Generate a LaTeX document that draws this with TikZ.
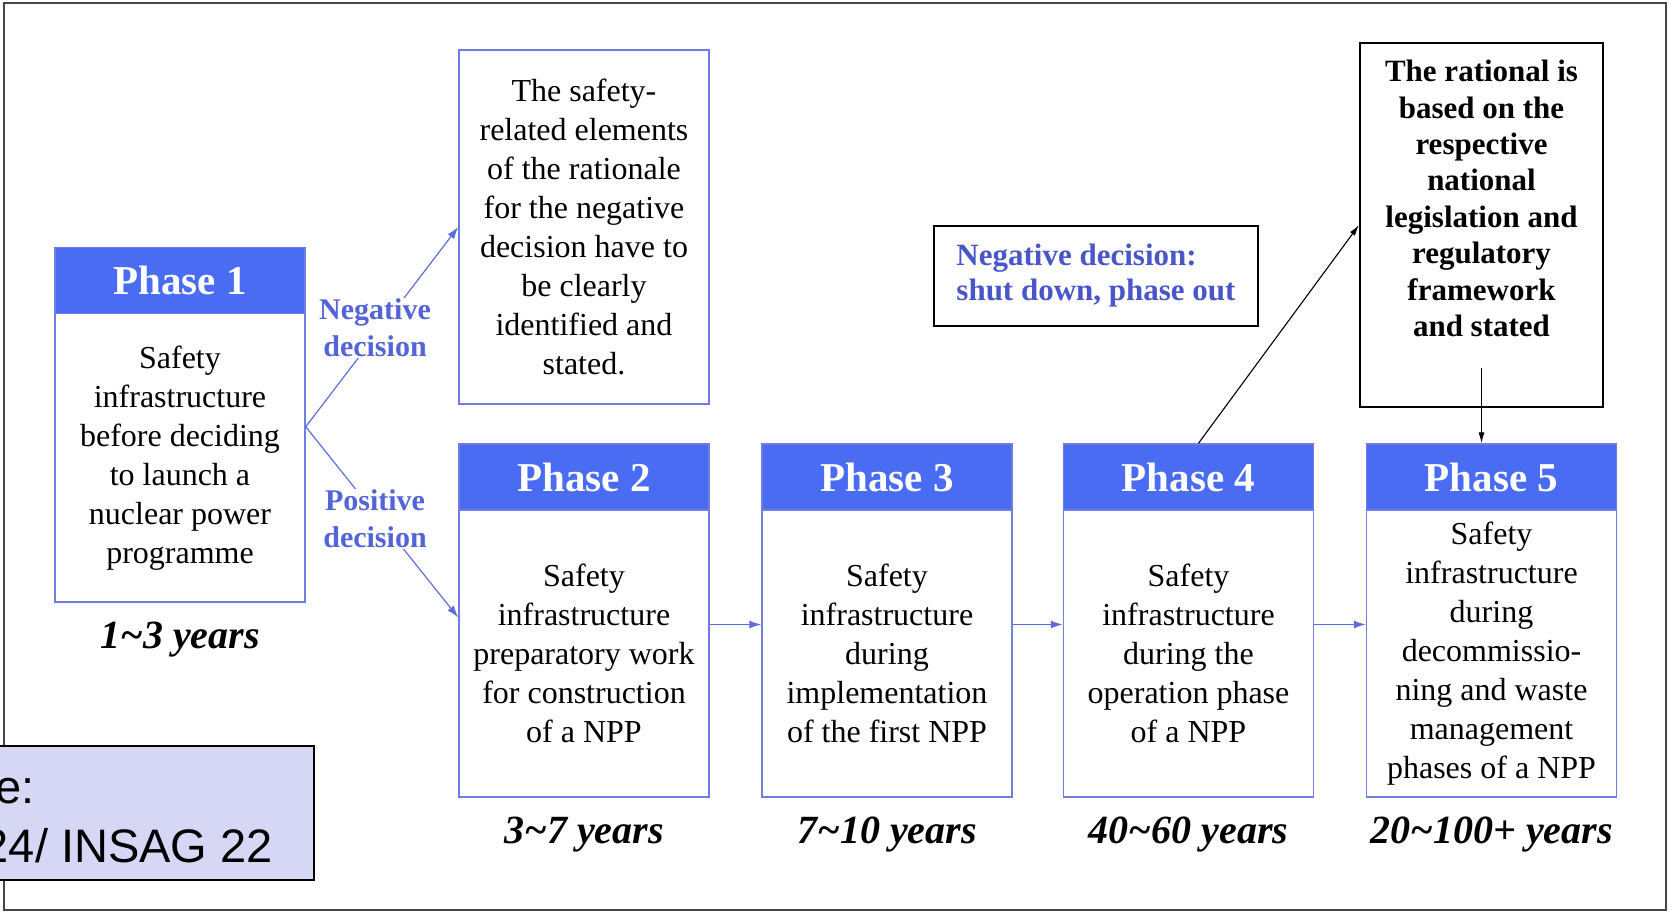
\documentclass[tikz,border=0pt]{standalone}
\usepackage{fontspec}
\setmainfont{Liberation Serif}
\newfontfamily\srcfont{Liberation Sans}
\usetikzlibrary{arrows.meta}

\definecolor{headblue}{RGB}{74,108,242}
\definecolor{edgeblue}{RGB}{112,126,226}
\definecolor{arrowblue}{RGB}{92,110,222}
\definecolor{labelblue}{RGB}{82,100,215}
\definecolor{shutblue}{RGB}{72,86,200}
\definecolor{srcfill}{RGB}{213,215,245}
\definecolor{framegray}{RGB}{70,70,70}

\tikzset{
  phasehead/.style={fill=headblue, draw=edgeblue, line width=1.5pt, text=white,
    minimum width=250pt, minimum height=66pt, inner sep=0pt,
    font=\fontsize{41}{48}\selectfont\bfseries},
  phasebody/.style={draw=edgeblue, line width=1.5pt, minimum width=250pt,
    inner sep=0pt, align=center, font=\fontsize{32}{39}\selectfont},
  yearlabel/.style={inner sep=0pt, font=\fontsize{40}{48}\selectfont\bfseries\itshape},
  decisionlabel/.style={text=labelblue, fill=white, align=center, inner sep=1pt,
    font=\fontsize{30}{37}\selectfont\bfseries},
  notebox/.style={draw=black, line width=2pt, inner sep=0pt},
  flowarrow/.style={draw=arrowblue, line width=1.2pt, -{Latex[length=12pt,width=8pt]}},
  linkarrow/.style={draw=black, line width=1.1pt, -{Latex[length=11pt,width=6pt]}},
  srctext/.style={inner sep=0pt, font=\srcfont\fontsize{47}{56}\selectfont}
}

\begin{document}
\begin{tikzpicture}[x=1pt,y=-1pt]

\useasboundingbox (0,0) rectangle (1670,912);

% Outer frame
\draw[framegray, line width=2pt] (4,3) rectangle (1666,910);

% Phase 1
\node[phasehead] (h1) at (180,280.5) {Phase 1};
\node[phasebody, minimum height=288.5pt] (p1) at (180,457.75)
  {Safety\\infrastructure\\before deciding\\to launch a\\nuclear power\\programme};
\node[yearlabel] (y1) at (180,640) {1\textasciitilde3 years};

% Phases 2 to 5
\node[phasehead] (h2) at (584,477) {Phase 2};
\node[phasebody, minimum height=287pt] (p2) at (584,653.5)
  {Safety\\infrastructure\\preparatory work\\for construction\\of a NPP};
\node[yearlabel] (y2) at (584,835) {3\textasciitilde7 years};

\node[phasehead] (h3) at (887,477) {Phase 3};
\node[phasebody, minimum height=287pt] (p3) at (887,653.5)
  {Safety\\infrastructure\\during\\implementation\\of the first NPP};
\node[yearlabel] (y3) at (887,835) {7\textasciitilde10 years};

\node[phasehead] (h4) at (1188.5,477) {Phase 4};
\node[phasebody, minimum height=287pt] (p4) at (1188.5,653.5)
  {Safety\\infrastructure\\during the\\operation phase\\of a NPP};
\node[yearlabel] (y4) at (1188.5,835) {40\textasciitilde60 years};

\node[phasehead] (h5) at (1491.5,477) {Phase 5};
\node[phasebody, minimum height=287pt] (p5) at (1491.5,653.5)
  {Safety\\infrastructure\\during\\decommissio-\\ning and waste\\management\\phases of a NPP};
\node[yearlabel] (y5) at (1491.5,835) {20\textasciitilde100+ years};

% Negative decision after phase 1
\node[phasebody, minimum height=354pt] (neg) at (584,227)
  {The safety-\\related elements\\of the rationale\\for the negative\\decision have to\\be clearly\\identified and\\stated.};

% Boxes on the right
\node[notebox, minimum width=324pt, minimum height=100pt, align=left,
  text=shutblue, font=\fontsize{31}{35}\selectfont\bfseries] (shut) at (1096,276)
  {Negative decision:\\shut down, phase out};
\node[notebox, minimum width=243pt, minimum height=364pt] (rat) at (1481.5,225) {};
\node[anchor=north, inner sep=0pt, align=center,
  font=\fontsize{31}{36.4}\selectfont\bfseries] (rattext) at (1481.5,60)
  {The rational is\\based on the\\respective\\national\\legislation and\\regulatory\\framework\\and stated};

% Arrows
\coordinate (fork) at ([yshift=31pt]p1.east);
\draw[flowarrow] (fork) -- (neg.west);
\draw[flowarrow] (fork) -- ([yshift=36pt]p2.west);
\draw[flowarrow] ([yshift=29pt]p2.east) -- ([yshift=29pt]p3.west);
\draw[flowarrow] ([yshift=29pt]p3.east) -- ([yshift=29pt]p4.west);
\draw[flowarrow] ([yshift=29pt]p4.east) -- ([yshift=29pt]p5.west);
\draw[linkarrow] ([xshift=10pt]h4.north) -- (rat.west);
\draw[linkarrow] ([yshift=40pt]rat.south) -- (rat.south |- h5.north);

% Decision labels
\node[decisionlabel] (negl) at (375,328) {Negative\\decision};
\node[decisionlabel] (posl) at (375,519) {Positive\\decision};

% Source box
\node[notebox, fill=srcfill, minimum width=334pt, minimum height=134pt] (src) at (147,813) {};
\node[srctext, anchor=base east] (srca) at (35,803) {e:};
\node[srctext, anchor=base east] (srcb) at (273,862) {24/ INSAG 22};

\end{tikzpicture}
\end{document}
